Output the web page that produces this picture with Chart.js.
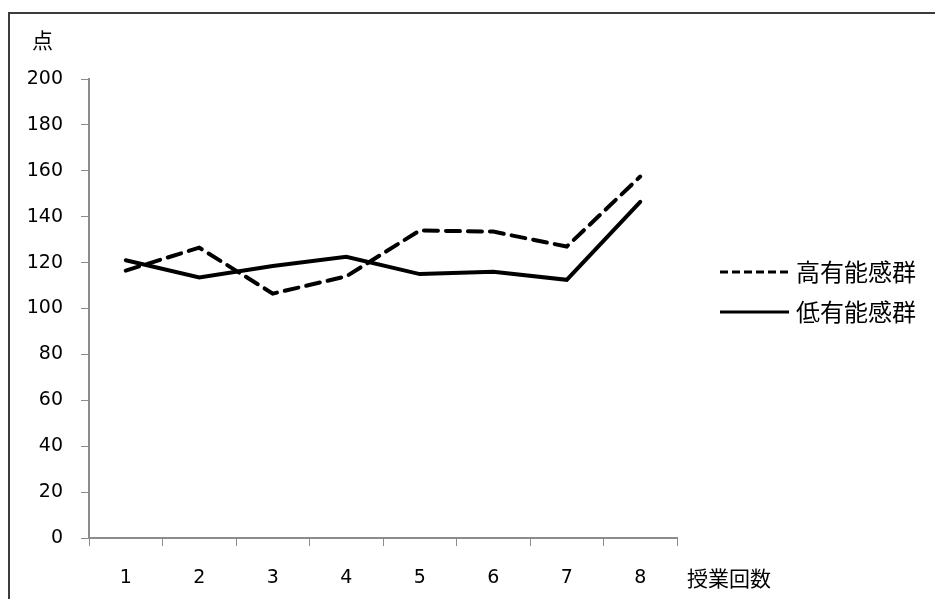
<!DOCTYPE html>
<html>
<head>
<meta charset="utf-8">
<script src="https://cdn.jsdelivr.net/npm/chart.js@4/dist/chart.umd.min.js"></script>
<style>
  html, body { margin: 0; padding: 0; background: #fff; }
  #wrap { width: 935px; height: 599px; position: relative; }
</style>
</head>
<body>
<div id="wrap"><canvas id="c" width="935" height="599"></canvas></div>
<script>
// Lesson number (x categories)
const lessons = ['1', '2', '3', '4', '5', '6', '7', '8'];
// Scores per group
const highGroup = [116.5, 126.5, 106.5, 114, 134, 133.5, 127, 157.5];
const lowGroup = [121, 113.5, 118.5, 122.5, 115, 116, 112.5, 146.5];
const seriesNames = ['高有能感群', '低有能感群'];
const yTitle = '点';
const xTitle = '授業回数';

const numFont = '"DejaVu Sans", sans-serif';
const cjkFont = '"Noto Sans CJK JP", sans-serif';

// Frame, axis titles and legend drawn on top of the chart
const decorations = {
  id: 'decorations',
  afterDraw(chart) {
    const ctx = chart.ctx;
    ctx.save();
    // outer frame
    ctx.strokeStyle = '#3c3c3c';
    ctx.lineWidth = 2;
    ctx.strokeRect(9, 13, 1000, 1000);

    // axis titles
    ctx.fillStyle = '#000';
    ctx.textBaseline = 'middle';
    ctx.textAlign = 'left';
    ctx.font = '21px ' + cjkFont;
    ctx.fillText(yTitle, 32, 40);
    ctx.fillText(xTitle, 687, 578);

    // legend
    const rows = [272, 312];
    chart.data.datasets.forEach((ds, i) => {
      const y = rows[i];
      ctx.strokeStyle = ds.borderColor;
      ctx.lineWidth = 3;
      ctx.setLineDash(ds.borderDash && ds.borderDash.length ? [8, 4] : []);
      ctx.beginPath();
      ctx.moveTo(720, y);
      ctx.lineTo(789, y);
      ctx.stroke();
      ctx.setLineDash([]);
      ctx.font = '24px ' + cjkFont;
      ctx.fillStyle = '#000';
      ctx.fillText(ds.label, 796, y);
    });
    ctx.restore();
  }
};

new Chart(document.getElementById('c'), {
  type: 'line',
  data: {
    labels: lessons,
    datasets: [
      {
        label: seriesNames[0],
        data: highGroup,
        borderColor: '#000',
        borderWidth: 4,
        borderDash: [14, 8],
        borderCapStyle: 'round',
        pointRadius: 0,
        tension: 0,
        fill: false
      },
      {
        label: seriesNames[1],
        data: lowGroup,
        borderColor: '#000',
        borderWidth: 4,
        borderCapStyle: 'round',
        pointRadius: 0,
        tension: 0,
        fill: false
      }
    ]
  },
  options: {
    responsive: false,
    animation: false,
    events: [],
    layout: { padding: { left: 10, top: 79, right: 258, bottom: 0 } },
    plugins: {
      legend: { display: false },
      tooltip: { enabled: false },
      title: { display: false }
    },
    scales: {
      x: {
        type: 'category',
        offset: true,
        grid: {
          offset: true,
          drawOnChartArea: false,
          drawTicks: true,
          tickLength: 8,
          color: '#8c8c8c',
          lineWidth: 1
        },
        border: { color: '#8c8c8c', width: 2 },
        ticks: {
          color: '#000',
          font: { family: numFont, size: 19 },
          padding: 21,
          maxRotation: 0
        },
        afterFit(s) { s.height = 61; }
      },
      y: {
        min: 0,
        max: 200,
        grid: {
          drawOnChartArea: false,
          drawTicks: true,
          tickLength: 8,
          color: '#8c8c8c',
          lineWidth: 1
        },
        border: { color: '#8c8c8c', width: 2 },
        ticks: {
          stepSize: 20,
          color: '#000',
          font: { family: numFont, size: 19 },
          padding: 18
        },
        afterFit(s) { s.width = 79; }
      }
    }
  },
  plugins: [decorations]
});
</script>
</body>
</html>
